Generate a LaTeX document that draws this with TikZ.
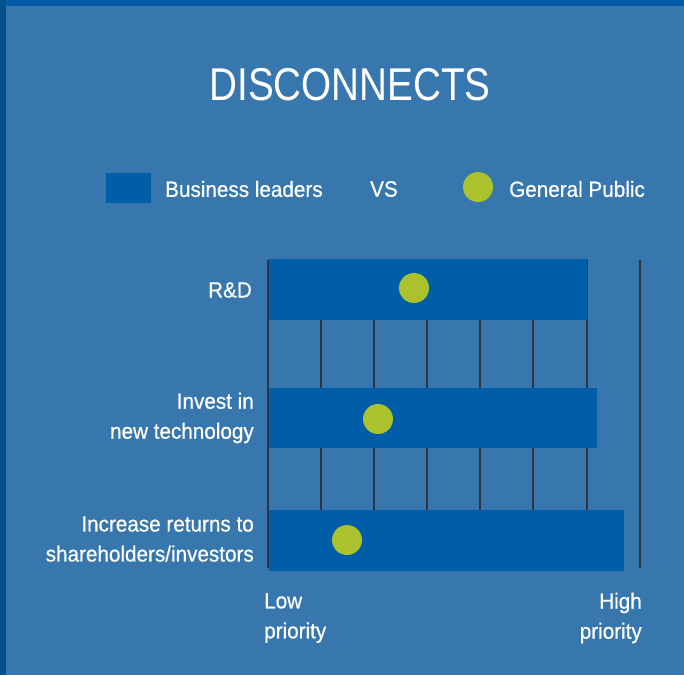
\documentclass[tikz,border=0pt]{standalone}
\usepackage{fontspec}
\setmainfont[FakeStretch=0.94,FakeBold=0.6]{Liberation Sans}
\newfontfamily\titlefont[FakeStretch=0.84]{Liberation Sans}
\definecolor{bgblue}{HTML}{3777AD}
\definecolor{barblue}{HTML}{005EA8}
\definecolor{topblue}{HTML}{005CA8}
\definecolor{leftblue}{HTML}{00508F}
\definecolor{dotgreen}{HTML}{ACC22C}
\definecolor{gridline}{HTML}{2E3540}
\begin{document}
\begin{tikzpicture}[x=1pt,y=-1pt,
  txt/.style={text=white,font=\fontsize{22}{30}\selectfont,inner sep=0pt},
  bar/.style={fill=barblue,draw=none},
  dot/.style={circle,fill=dotgreen,draw=none,minimum size=30pt,inner sep=0pt},
  grid/.style={draw=gridline,line width=2pt}]
\useasboundingbox (0,0) rectangle (684,675);
\fill[bgblue] (0,0) rectangle (684,675);
\fill[topblue] (0,0) rectangle (684,6);
\fill[leftblue] (0,0) rectangle (6,675);
% title
\node[text=white,font=\titlefont\fontsize{46}{50}\selectfont,inner sep=0pt] (title) at (350,85) {DISCONNECTS};
% legend
\node[bar,minimum width=45pt,minimum height=30pt,inner sep=0pt] (legbar) at (128,188) {};
\node[txt,anchor=west] (legbl) at (165,189) {Business leaders};
\node[txt] (vs) at (384,189) {VS};
\node[dot] (legdot) at (478,187) {};
\node[txt,anchor=west] (leggp) at (509,189) {General Public};
% grid lines
\foreach \i/\xx in {0/268,1/321,2/374,3/427,4/480,5/533,6/587,7/640}{
  \coordinate (gt\i) at (\xx,260);
  \coordinate (gb\i) at (\xx,568);
  \draw[grid] (gt\i) -- (gb\i);
}
% bars
\fill[bar] (269,259) rectangle (587,320);
\fill[bar] (269,388) rectangle (597,448);
\fill[bar] (269,510) rectangle (624,571);
% dots
\node[dot] (d1) at (414,288) {};
\node[dot] (d2) at (378,419) {};
\node[dot] (d3) at (347,540) {};
% labels
\node[txt,anchor=east] (l1) at (252,290) {R\&D};
\node[txt,anchor=east,align=right] (l2) at (254,418) {Invest in\\new technology};
\node[txt,anchor=east,align=right] (l3) at (254,539) {Increase returns to\\shareholders/investors};
\node[txt,anchor=west,align=left] (low) at (264,618) {Low\\priority};
\node[txt,anchor=east,align=right] (high) at (642,618) {High\\priority};
\end{tikzpicture}
\end{document}
